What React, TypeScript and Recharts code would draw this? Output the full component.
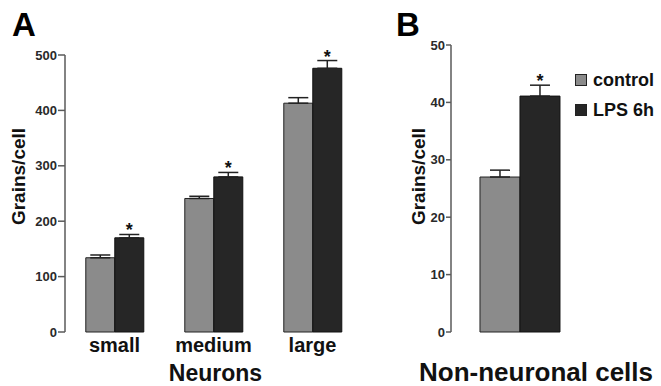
import { Bar, BarChart, ErrorBar, LabelList, Legend, XAxis, YAxis } from 'recharts';

const neuronCategories = ['small', 'medium', 'large'];
const neuronControl = [134, 241, 413];
const neuronControlErr = [5, 4, 10];
const neuronLps = [170, 280, 476];
const neuronLpsErr = [6, 8, 14];
const neuronTicks = [0, 100, 200, 300, 400, 500];

const otherCategories = ['Non-neuronal cells'];
const otherControl = [27];
const otherControlErr = [1.2];
const otherLps = [41.1];
const otherLpsErr = [1.9];
const otherTicks = [0, 10, 20, 30, 40, 50];

const seriesNames = ['control', 'LPS 6h'];

const font = '"Liberation Sans", Arial, Helvetica, sans-serif';
const controlFill = '#8b8b8b';
const lpsFill = '#262626';
const axisColor = '#5a5a5a';

const neuronData = neuronCategories.map((name, i) => ({
  name,
  control: neuronControl[i],
  controlErr: [0, neuronControlErr[i]],
  lps: neuronLps[i],
  lpsErr: [0, neuronLpsErr[i]],
}));

const otherData = otherCategories.map((name, i) => ({
  name,
  control: otherControl[i],
  controlErr: [0, otherControlErr[i]],
  lps: otherLps[i],
  lpsErr: [0, otherLpsErr[i]],
}));

// star above the error bar; bar height / value gives px per unit
const starLabel = (errs: number[]) => (props: any) => {
  const { x, y, width, height, value, index } = props;
  const e = errs[index ?? 0] ?? 0;
  const k = Number(height) / Number(value);
  return (
    <text x={Number(x) + Number(width) / 2} y={Number(y) - e * k + 2} textAnchor="middle"
      fontFamily={font} fontWeight="bold" fontSize={18} fill="#111">*</text>
  );
};

const yLabel = (dx: number) => (props: any) => {
  const cx = props.viewBox.x + dx;
  const cy = 176.5;
  return (
    <text x={cx} y={cy} transform={`rotate(-90 ${cx} ${cy})`} textAnchor="middle"
      fontFamily={font} fontWeight="bold" fontSize={19} fill="#111">Grains/cell</text>
  );
};

const xLabel = (text: string, size: number, dx: number) => (props: any) => {
  const vb = props.viewBox;
  return (
    <text x={vb.x + vb.width / 2 + dx} y={vb.y + vb.height - 5} textAnchor="middle"
      fontFamily={font} fontWeight="bold" fontSize={size} fill="#111">{text}</text>
  );
};

const tickStyle = { fontFamily: font, fontWeight: 'bold' as const, fontSize: 13, fill: '#2a2a2a' };

function LegendBox({ payload }: any) {
  const items = [...(payload || [])].sort((a: any, b: any) => seriesNames.indexOf(a.value) - seriesNames.indexOf(b.value));
  return (
    <div style={{ fontFamily: font, fontWeight: 'bold', fontSize: 18, color: '#111' }}>
      {items.map((p: any) => (
        <div key={p.value} style={{ display: 'flex', alignItems: 'center', height: 30 }}>
          <span style={{ width: 10, height: 10, border: '1px solid #222', background: p.color, marginRight: 6 }} />
          <span>{p.value}</span>
        </div>
      ))}
    </div>
  );
}

export default function App() {
  return (
    <div style={{ position: 'absolute', left: 0, top: 0, width: 661, height: 386, background: '#fff', fontFamily: font }}>
      <div style={{ position: 'absolute', left: 12, top: 6, fontSize: 33, fontWeight: 'bold', color: '#000' }}>A</div>
      <div style={{ position: 'absolute', left: 396, top: 6, fontSize: 33, fontWeight: 'bold', color: '#000' }}>B</div>

      <div style={{ position: 'absolute', left: 0, top: 0 }}>
        <BarChart width={380} height={386} data={neuronData} barCategoryGap="21%" barGap={0}
          margin={{ top: 55, right: 18, bottom: 0, left: 0 }}>
          <XAxis xAxisId="edge" type="number" domain={[0, 3]} ticks={[0, 1, 2, 3]} tick={false} height={0}
            tickSize={5} stroke={axisColor} strokeWidth={1.5} />
          <XAxis xAxisId="cat" dataKey="name" height={54} axisLine={false} tickLine={false} tickSize={0} tickMargin={6}
            tick={{ fontFamily: font, fontWeight: 'bold', fontSize: 20, fill: '#111' }}
            label={{ content: xLabel('Neurons', 23, 2) }} />
          <YAxis width={65} domain={[0, 500]} ticks={neuronTicks} interval={0} tickSize={7} tickMargin={1}
            stroke={axisColor} strokeWidth={1.5} tick={tickStyle} label={{ content: yLabel(25) }} />
          <Bar xAxisId="cat" dataKey="control" name={seriesNames[0]} fill={controlFill} stroke="#222" strokeWidth={1} isAnimationActive={false}>
            <ErrorBar dataKey="controlErr" width={10} stroke="#222" strokeWidth={1.5} direction="y" />
          </Bar>
          <Bar xAxisId="cat" dataKey="lps" name={seriesNames[1]} fill={lpsFill} stroke="#111" strokeWidth={1} isAnimationActive={false}>
            <ErrorBar dataKey="lpsErr" width={10} stroke="#222" strokeWidth={1.5} direction="y" />
            <LabelList dataKey="lps" content={starLabel(neuronLpsErr)} />
          </Bar>
        </BarChart>
      </div>

      <div style={{ position: 'absolute', left: 380, top: 0 }}>
        <BarChart width={281} height={386} data={otherData} barCategoryGap="21%" barGap={0}
          margin={{ top: 45, right: 72, bottom: 0, left: 0 }}>
          <XAxis xAxisId="edge" type="number" domain={[0, 1]} ticks={[0, 1]} tick={false} height={0}
            tickSize={5} stroke={axisColor} strokeWidth={1.5} />
          <XAxis xAxisId="cat" dataKey="name" height={54} axisLine={false} tickLine={false} tick={false}
            label={{ content: xLabel(otherCategories[0], 26, 16) }} />
          <YAxis width={71} domain={[0, 50]} ticks={otherTicks} interval={0} tickSize={5} tickMargin={1}
            stroke={axisColor} strokeWidth={1.5} tick={tickStyle} label={{ content: yLabel(45) }} />
          <Legend layout="vertical" verticalAlign="middle" align="center" content={<LegendBox />}
            wrapperStyle={{ position: 'absolute', left: 195, top: 65, width: 90 }} />
          <Bar xAxisId="cat" dataKey="control" name={seriesNames[0]} fill={controlFill} stroke="#222" strokeWidth={1} isAnimationActive={false}>
            <ErrorBar dataKey="controlErr" width={10} stroke="#222" strokeWidth={1.5} direction="y" />
          </Bar>
          <Bar xAxisId="cat" dataKey="lps" name={seriesNames[1]} fill={lpsFill} stroke="#111" strokeWidth={1} isAnimationActive={false}>
            <ErrorBar dataKey="lpsErr" width={10} stroke="#222" strokeWidth={1.5} direction="y" />
            <LabelList dataKey="lps" content={starLabel(otherLpsErr)} />
          </Bar>
        </BarChart>
      </div>
    </div>
  );
}
